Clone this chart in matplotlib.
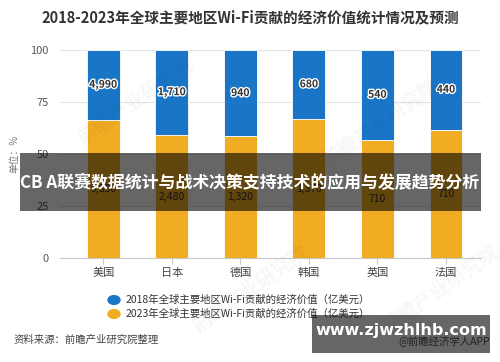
import numpy as np
import matplotlib
matplotlib.use("Agg")
import matplotlib.pyplot as plt
import matplotlib.patheffects as pe
from matplotlib.patches import Rectangle

plt.rcParams['font.family'] = ['Noto Sans CJK SC', 'DejaVu Sans']

countries = ['美国', '日本', '德国', '韩国', '英国', '法国']
v2018 = [4990, 1710, 940, 680, 540, 440]
v2023 = [9830, 2480, 1320, 1370, 710, 710]
yticks = [0, 25, 50, 75, 100]

title = '2018-2023年全球主要地区Wi-Fi贡献的经济价值统计情况及预测'
legend_names = ['2018年全球主要地区Wi-Fi贡献的经济价值（亿美元）',
                '2023年全球主要地区Wi-Fi贡献的经济价值（亿美元）']
blue = '#1a75c6'
orange = '#f0ac22'

a = np.array(v2018, dtype=float)
b = np.array(v2023, dtype=float)
tot = a + b
share_b = b / tot * 100
share_a = a / tot * 100
x = np.arange(len(countries))

fig = plt.figure(figsize=(5, 3.62), dpi=100)
ax = fig.add_axes([0.12, 0.2865, 0.842, 0.5762])

ax.bar(x, share_b, width=0.48, color=orange, edgecolor='white', linewidth=0.6, zorder=3)
ax.bar(x, share_a, width=0.48, bottom=share_b, color=blue, edgecolor='white', linewidth=0.6, zorder=3)

stroke = [pe.withStroke(linewidth=2, foreground='white')]
for i in range(len(x)):
    ax.text(x[i], share_b[i] + share_a[i] / 2, f'{v2018[i]:,}', ha='center', va='center',
            fontsize=7.5, color='#333333', fontweight='bold', path_effects=stroke, zorder=4)
    ax.text(x[i], share_b[i] / 2, f'{v2023[i]:,}', ha='center', va='center',
            fontsize=7.5, color='#333333', zorder=4)

ax.set_xlim(-0.63, 5.51)
ax.set_ylim(0, 100)
ax.set_yticks(yticks)
ax.set_xticks(x)
ax.set_xticklabels(countries)
ax.grid(axis='y', color='#e3e3e3', linewidth=0.8, zorder=0)
ax.set_axisbelow(True)
for s in ['top', 'right', 'left']:
    ax.spines[s].set_visible(False)
ax.spines['bottom'].set_color('#c8c8c8')
ax.tick_params(axis='y', length=0, labelsize=8, labelcolor='#555555', pad=8)
ax.tick_params(axis='x', length=4, color='#c8c8c8', labelsize=8, labelcolor='#444444', pad=3)
ax.set_ylabel('单位：%', fontsize=7, color='#777777', labelpad=8)

fig.text(0.5, 0.953, title, ha='center', va='center', fontsize=10.5,
         fontweight='bold', color='#333333')

# faint watermarks
for (wx, wy) in [(0.27, 0.72), (0.76, 0.66), (0.5, 0.2), (0.88, 0.2)]:
    fig.text(wx, wy, '前瞻产业研究院', fontsize=14, color='#000000', alpha=0.035,
             rotation=35, ha='center', va='center', fontweight='bold')

# legend
for k, (c, name) in enumerate(zip([blue, orange], legend_names)):
    yy = 1 - (300 + 14 * k) / 362
    fig.patches.append(plt.Circle((114 / 500, yy), 0.012, transform=fig.transFigure,
                                  color=c, figure=fig))
    fig.text(126 / 500, yy, name, fontsize=7.5, color='#333333', va='center', ha='left')

fig.text(14 / 500, 1 - 340 / 362, '资料来源：前瞻产业研究院整理', fontsize=7.5,
         color='#444444', va='center', ha='left')
fig.text(490 / 500, 1 - 341 / 362, '@前瞻经济学人APP', fontsize=7.5,
         color='#555555', va='center', ha='right')

# overlay banner
fig.patches.append(Rectangle((20 / 500, 1 - 210.5 / 362), 461 / 500, 58 / 362,
                             transform=fig.transFigure, color='black', alpha=0.6,
                             linewidth=0, figure=fig, zorder=10))
fig.text(250 / 500, 1 - 183 / 362, 'CB A联赛数据统计与战术决策支持技术的应用与发展趋势分析',
         fontsize=12.2, color='white', fontweight='bold', ha='center', va='center', zorder=11)

# site watermark box
fig.patches.append(Rectangle((312 / 500, 1 - 353 / 362), 178 / 500, 38 / 362,
                             transform=fig.transFigure, color='black', alpha=0.6,
                             linewidth=0, figure=fig, zorder=10))
fig.text(401 / 500, 1 - 331 / 362, 'www.zjwzhlhb.com', fontsize=11.5, color='white',
         fontweight='bold', ha='center', va='center', zorder=11, family='DejaVu Sans')

fig.savefig('out.png', dpi=100)
